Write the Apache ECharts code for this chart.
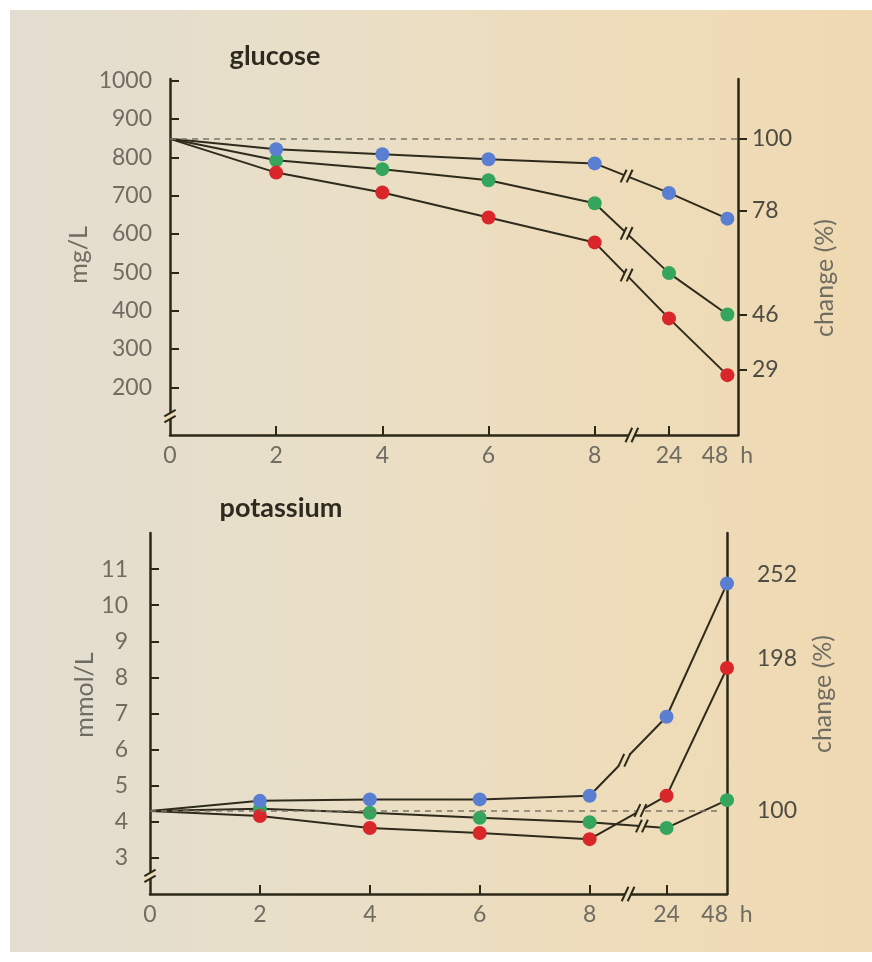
<!DOCTYPE html>
<html>
<head>
<meta charset="utf-8">
<script src="https://cdn.jsdelivr.net/npm/echarts@6/dist/echarts.min.js"></script>
<style>
  html, body { margin: 0; padding: 0; background: #ffffff; }
  #bg { position: absolute; left: 10px; top: 10px; width: 862px; height: 942px;
        background: linear-gradient(90deg, #e2ddd0 0%, #e9dfc8 35%, #eedcba 70%, #efd9b2 100%); }
  #chart { position: absolute; left: 0; top: 0; width: 872px; height: 962px; }
</style>
</head>
<body>
<div id="bg"></div>
<div id="chart"></div>
<script>
// ---- data ----
const hours = [0, 2, 4, 6, 8, 24, 48];               // sampling times (h)
const axisPos = [0, 2, 4, 6, 8, 9.4, 10.5];          // place of each time on the broken time axis
const timeTicks = [2, 4, 6, 8, 9.4];                 // tick positions on time axis

const glucoseGreen = [848, 792, 769, 740, 680, 498, 390];   // mg/L
const glucoseBlue  = [848, 821, 808, 795, 784, 707, 640];
const glucoseRed   = [848, 760, 708, 643, 578, 380, 232];
const glucoseTicks = [200, 300, 400, 500, 600, 700, 800, 900, 1000];
const glucosePctTicks = [100, 78, 46, 29];

const potGreen = [4.3, 4.36, 4.25, 4.11, 3.99, 3.83, 4.6];  // mmol/L
const potBlue  = [4.3, 4.58, 4.62, 4.62, 4.72, 6.91, 10.6];
const potRed   = [4.3, 4.16, 3.83, 3.69, 3.52, 4.72, 8.26];
const potTicks = [3, 4, 5, 6, 7, 8, 9, 10, 11];
const potPctTicks = [252, 198, 100];

// ---- style ----
const C = { blue: '#5a7fd2', green: '#35a55e', red: '#d8262a', line: '#2f2b1c', axis: '#2c2818',
            label: '#6f6c62', label2: '#4e4b42', bg: '#ecdcba' };
const FONT = 'Lato, "DejaVu Sans", sans-serif';

const gMin = 76, gMax = 1004, gBase = glucoseBlue[0];
const kMin = 2, kMax = 12, kBase = potBlue[0];

function pts(vals) {
  return vals.map((v, i) => i === 0 ? { value: [axisPos[i], v], symbol: 'none' } : [axisPos[i], v]);
}
function timeLabel(v) {
  const i = axisPos.findIndex(p => Math.abs(p - v) < 1e-6);
  if (i < 0) return '';
  return i === hours.length - 1 ? hours[i] + '  h' : String(hours[i]);
}
const plain = v => String(Math.round(v));

function lineSeries(name, vals, color, xi, yi, extra) {
  return Object.assign({
    name, type: 'line', xAxisIndex: xi, yAxisIndex: yi, data: pts(vals),
    symbol: 'circle', symbolSize: 14, showSymbol: true, animation: false,
    lineStyle: { color: C.line, width: 2 },
    itemStyle: { color: color },
    emphasis: { disabled: true }, z: 3
  }, extra || {});
}

function dashed(base, xEnd) {
  return {
    symbol: ['none', 'none'], silent: true, label: { show: false }, animation: false,
    lineStyle: { type: [6, 5], color: '#7b776a', width: 1.6 },
    data: [[{ coord: [0, base] }, { coord: [xEnd, base] }]]
  };
}

const xCommon = {
  type: 'value', splitLine: { show: false },
  axisLine: { show: true, onZero: false, lineStyle: { color: C.axis, width: 2.5 } },
  axisTick: { show: true, inside: true, length: 9, customValues: timeTicks, lineStyle: { color: C.axis, width: 2 } },
  axisLabel: { customValues: axisPos, formatter: timeLabel, color: C.label, fontSize: 23, fontFamily: FONT, margin: 9 }
};

const option = {
  animation: false,
  backgroundColor: 'transparent',
  grid: [
    { left: 170, top: 79, width: 568, height: 356 },
    { left: 150, top: 533, width: 577, height: 361 }
  ],
  xAxis: [
    Object.assign({}, xCommon, { gridIndex: 0, min: 0, max: 10.7 }),
    Object.assign({}, xCommon, { gridIndex: 1, min: 0, max: 10.5 })
  ],
  yAxis: [
    { gridIndex: 0, type: 'value', min: gMin, max: gMax, splitLine: { show: false },
      axisLine: { show: true, lineStyle: { color: C.axis, width: 2.5 } },
      axisTick: { show: true, inside: true, length: 9, customValues: glucoseTicks, lineStyle: { color: C.axis, width: 2 } },
      axisLabel: { customValues: glucoseTicks, formatter: plain, color: C.label, fontSize: 23, fontFamily: FONT, margin: 18 } },
    { gridIndex: 0, type: 'value', position: 'right', min: gMin / gBase * 100, max: gMax / gBase * 100,
      splitLine: { show: false },
      axisLine: { show: true, lineStyle: { color: C.axis, width: 2.5 } },
      axisTick: { show: true, inside: false, length: 9, customValues: glucosePctTicks, lineStyle: { color: C.axis, width: 2 } },
      axisLabel: { customValues: glucosePctTicks, formatter: plain, color: C.label2, fontSize: 23, fontFamily: FONT, margin: 14 } },
    { gridIndex: 1, type: 'value', min: kMin, max: kMax, splitLine: { show: false },
      axisLine: { show: true, lineStyle: { color: C.axis, width: 2.5 } },
      axisTick: { show: true, inside: true, length: 9, customValues: potTicks, lineStyle: { color: C.axis, width: 2 } },
      axisLabel: { customValues: potTicks, formatter: plain, color: C.label, fontSize: 23, fontFamily: FONT, margin: 22 } },
    { gridIndex: 1, type: 'value', position: 'right', min: kMin / kBase * 100, max: kMax / kBase * 100,
      splitLine: { show: false },
      axisLine: { show: true, lineStyle: { color: C.axis, width: 2.5 } },
      axisTick: { show: false },
      axisLabel: { customValues: potPctTicks, formatter: plain, color: C.label2, fontSize: 23, fontFamily: FONT, margin: 30 } }
  ],
  series: [
    lineSeries('glucose A', glucoseGreen, C.green, 0, 0, { markLine: dashed(gBase, 10.7) }),
    lineSeries('glucose B', glucoseBlue, C.blue, 0, 0),
    lineSeries('glucose C', glucoseRed, C.red, 0, 0),
    lineSeries('potassium A', potGreen, C.green, 1, 2, { markLine: dashed(kBase, 10.35) }),
    lineSeries('potassium B', potBlue, C.blue, 1, 2),
    lineSeries('potassium C', potRed, C.red, 1, 2)
  ]
};

const chart = echarts.init(document.getElementById('chart'), null, { renderer: 'canvas' });
chart.setOption(option);

// ---- break marks (positions derived from data via the chart's scales) ----
function breakMark(cx, cy, opts) {
  const len = opts.len || 14, ang = (opts.angle || 65) * Math.PI / 180;
  const dx = Math.cos(ang) * len / 2, dy = -Math.sin(ang) * len / 2;
  const ox = opts.ox !== undefined ? opts.ox : 3, oy = opts.oy || 0;
  const a = [cx - ox, cy - oy], b = [cx + ox, cy + oy];
  return [
    { type: 'polygon', z: 50, silent: true,
      shape: { points: [[a[0] - dx, a[1] - dy], [a[0] + dx, a[1] + dy], [b[0] + dx, b[1] + dy], [b[0] - dx, b[1] - dy]] },
      style: { fill: C.bg } },
    { type: 'line', z: 51, silent: true, shape: { x1: a[0] - dx, y1: a[1] - dy, x2: a[0] + dx, y2: a[1] + dy },
      style: { stroke: C.axis, lineWidth: 2 } },
    { type: 'line', z: 51, silent: true, shape: { x1: b[0] - dx, y1: b[1] - dy, x2: b[0] + dx, y2: b[1] + dy },
      style: { stroke: C.axis, lineWidth: 2 } }
  ];
}
function segPoint(seriesIndex, vals, t) {
  const x = axisPos[4] + t * (axisPos[5] - axisPos[4]);
  const y = vals[4] + t * (vals[5] - vals[4]);
  return chart.convertToPixel({ seriesIndex }, [x, y]);
}

const g = [];
[[0, glucoseGreen, 0.43], [1, glucoseBlue, 0.43], [2, glucoseRed, 0.43],
 [4, potBlue, 0.45], [5, potRed, 0.66], [3, potGreen, 0.68]].forEach(([si, vals, t]) => {
  const p = segPoint(si, vals, t);
  g.push(...breakMark(p[0], p[1], { len: 14, angle: 65, ox: 3 }));
});
// time axis breaks
[[0, gMin], [3, kMin]].forEach(([si, ymin]) => {
  const p = chart.convertToPixel({ seriesIndex: si }, [8.7, ymin]);
  g.push(...breakMark(p[0], p[1], { len: 16, angle: 65, ox: 3 }));
});
// value axis breaks
[[0, 125], [3, 2.5]].forEach(([si, yv]) => {
  const p = chart.convertToPixel({ seriesIndex: si }, [0, yv]);
  g.push(...breakMark(p[0], p[1], { len: 13, angle: 30, ox: 0, oy: 3 }));
});

// titles and axis names
const txt = (x, y, text, size, weight, color, rot) => ({
  type: 'text', x, y, rotation: rot || 0, silent: true, z: 60,
  style: { text, fill: color, font: (weight || 'normal') + ' ' + size + 'px ' + FONT, align: 'center', verticalAlign: 'middle' }
});
g.push(txt(275, 56, 'glucose', 27, 'bold', '#2e2a20'));
g.push(txt(281, 508, 'potassium', 27, 'bold', '#2e2a20'));
g.push(txt(79, 255, 'mg/L', 25, 'normal', C.label, Math.PI / 2));
g.push(txt(85, 695, 'mmol/L', 25, 'normal', C.label, Math.PI / 2));
g.push(txt(825, 278, 'change (%)', 25, 'normal', C.label, Math.PI / 2));
g.push(txt(823, 694, 'change (%)', 25, 'normal', C.label, Math.PI / 2));

chart.setOption({ graphic: { elements: g } });
</script>
</body>
</html>
